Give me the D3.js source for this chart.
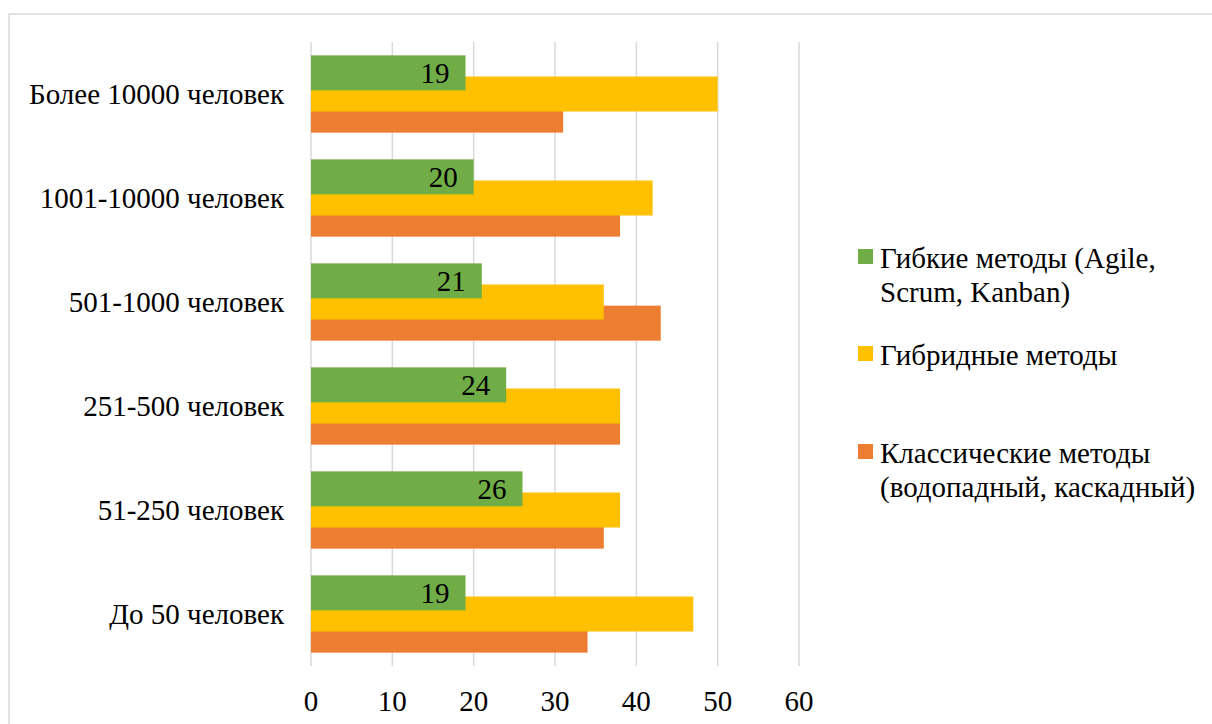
<!DOCTYPE html>
<html>
<head>
<meta charset="utf-8">
<script src="https://cdn.jsdelivr.net/npm/d3@7"></script>
</head>
<body style="margin:0">
<script>
(function() {

  var categories = ["Более 10000 человек", "1001-10000 человек", "501-1000 человек",
                    "251-500 человек", "51-250 человек", "До 50 человек"];
  var agile = [19, 20, 21, 24, 26, 19];
  var hybrid = [50, 42, 36, 38, 38, 47];
  var classic = [31, 38, 43, 38, 36, 34];
  var seriesNames = ["Гибкие методы (Agile, Scrum, Kanban)", "Гибридные методы",
                     "Классические методы (водопадный, каскадный)"];
  var xTicks = [0, 10, 20, 30, 40, 50, 60];

  var colors = ["#70ad47", "#ffc000", "#ed7d31"];
  var width = 1212, height = 724;
  var plot = { left: 311, right: 799, top: 42, bottom: 666 };
  var barH = 35;
  var fs = 29;

  var svg = d3.select("body")
    .append("svg")
    .attr("width", width)
    .attr("height", height)
    .style("font-family", "'Liberation Serif', serif", "important");

  function txt(sel) {
    return sel.attr("font-family", "Liberation Serif")
      .style("font-family", "'Liberation Serif', serif", "important")
      .style("font-size", fs + "px")
      .attr("fill", "#000");
  }

  // outer chart frame (runs off the page like the original)
  svg.append("rect")
    .attr("x", 9).attr("y", 14)
    .attr("width", 1230).attr("height", 740)
    .attr("fill", "none")
    .attr("stroke", "#d9d9d9")
    .attr("stroke-width", 1.5);

  var x = d3.scaleLinear().domain([0, 60]).range([plot.left, plot.right]);
  var y = d3.scaleBand().domain(categories).range([plot.top, plot.bottom]).paddingInner(0.257).paddingOuter(0.1285);

  // gridlines
  svg.append("g")
    .selectAll("line")
    .data(xTicks)
    .enter().append("line")
    .attr("x1", function(d){ return x(d); })
    .attr("x2", function(d){ return x(d); })
    .attr("y1", plot.top)
    .attr("y2", plot.bottom)
    .attr("stroke", "#d9d9d9")
    .attr("stroke-width", 1.5);

  var series = [agile, hybrid, classic];
  var offset = (y.bandwidth() - barH) / 2;

  // draw orange first, then yellow, green on top
  [2, 1, 0].forEach(function(s) {
    svg.append("g")
      .selectAll("rect")
      .data(series[s])
      .enter().append("rect")
      .attr("x", x(0))
      .attr("y", function(d, i){ return y(categories[i]) + s * offset; })
      .attr("width", function(d){ return x(d) - x(0); })
      .attr("height", barH)
      .attr("fill", colors[s]);
  });

  // data labels on green bars
  txt(svg.selectAll("text.val")
    .data(agile)
    .enter().append("text")
    .attr("class", "val")
    .attr("x", function(d){ return x(d) - 16; })
    .attr("y", function(d, i){ return y(categories[i]) + barH / 2 + 10; })
    .attr("text-anchor", "end"))
    .text(function(d){ return d; });

  // category labels
  txt(svg.selectAll("text.cat")
    .data(categories)
    .enter().append("text")
    .attr("class", "cat")
    .attr("x", 284)
    .attr("y", function(d){ return y(d) + y.bandwidth() / 2 + 10; })
    .attr("text-anchor", "end"))
    .text(function(d){ return d; });

  // x tick labels
  txt(svg.selectAll("text.tick")
    .data(xTicks)
    .enter().append("text")
    .attr("class", "tick")
    .attr("x", function(d){ return x(d); })
    .attr("y", 711)
    .attr("text-anchor", "middle"))
    .text(function(d){ return d; });

  // legend
  var legendLines = [
    ["Гибкие методы (Agile,", "Scrum, Kanban)"],
    ["Гибридные методы"],
    ["Классические методы", "(водопадный, каскадный)"]
  ];
  var legendY = [268, 365, 463];

  svg.selectAll("rect.key")
    .data(seriesNames)
    .enter().append("rect")
    .attr("class", "key")
    .attr("x", 858)
    .attr("y", function(d, i){ return legendY[i] - 19; })
    .attr("width", 15)
    .attr("height", 15)
    .attr("fill", function(d, i){ return colors[i]; });

  legendLines.forEach(function(lines, i) {
    lines.forEach(function(line, k) {
      txt(svg.append("text")
        .attr("x", 880)
        .attr("y", legendY[i] + k * 34))
        .text(line);
    });
  });

})();
</script>
</body>
</html>
